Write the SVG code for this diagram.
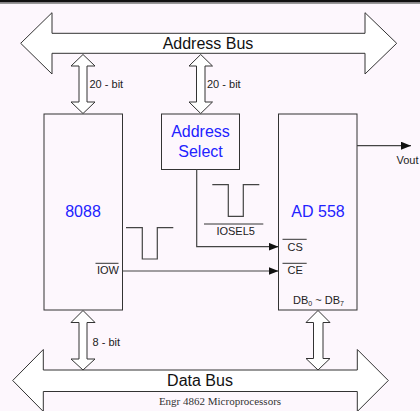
<svg xmlns="http://www.w3.org/2000/svg" width="420" height="411" viewBox="0 0 420 411">
<defs>
<style>
.bus{fill:#fff;stroke:#333;stroke-width:1}
.box{fill:#fdf7fd;stroke:#333;stroke-width:1}
.ln{fill:none;stroke:#444;stroke-width:1.2}
.big{font-family:"Liberation Sans",Arial,sans-serif;font-size:16px;fill:#111}
.blue{font-family:"Liberation Sans",Arial,sans-serif;font-size:16px;fill:#2222ff}
.sm{font-family:"Liberation Sans",Arial,sans-serif;font-size:11px;fill:#222}
.ft{font-family:"Liberation Serif","Times New Roman",serif;font-size:11px;fill:#333}
</style>
<marker id="ah" markerWidth="10" markerHeight="8" refX="10" refY="4" orient="auto" markerUnits="userSpaceOnUse">
<path d="M0,0 L10,4 L0,8 Z" fill="#111"/>
</marker>
</defs>
<rect x="0" y="0" width="420" height="411" fill="#fdf7fd"/>
<rect x="0" y="0" width="420" height="2.5" fill="#111"/>
<line x1="0" y1="3.5" x2="420" y2="3.5" stroke="#999" stroke-width="1"/>

<g id="address-bus">
<path class="bus" d="M20.7,43.3 L52,12.7 L52,33.3 L365,33.3 L365,12.7 L396.7,43.3 L365,74 L365,53.3 L52,53.3 L52,74 Z"/>
<text class="big" x="208" y="49" text-anchor="middle">Address Bus</text>
</g>

<g id="data-bus">
<path class="bus" d="M12.7,380.5 L43.3,349.5 L43.3,370 L357.3,370 L357.3,349.5 L388.3,380.5 L357.3,411.5 L357.3,391.5 L43.3,391.5 L43.3,411.5 Z"/>
<text class="big" x="200" y="386" text-anchor="middle">Data Bus</text>
<text class="ft" x="220" y="405" text-anchor="middle">Engr 4862 Microprocessors</text>
</g>

<g id="cpu-8088">
<rect class="box" x="44" y="114" width="78.5" height="196"/>
<text class="blue" x="83" y="217" text-anchor="middle">8088</text>
<text class="sm" x="97" y="273.5">IOW</text>
<line x1="95.5" y1="263.3" x2="118.5" y2="263.3" stroke="#333" stroke-width="1"/>
</g>

<g id="address-select">
<rect class="box" x="161.5" y="114" width="78" height="55.5"/>
<text class="blue" x="200.5" y="137" text-anchor="middle">Address</text>
<text class="blue" x="200.5" y="157" text-anchor="middle">Select</text>
</g>

<g id="ad558">
<rect class="box" x="278.5" y="114" width="78.5" height="196"/>
<text class="blue" x="318" y="217" text-anchor="middle">AD 558</text>
<text class="sm" x="287.5" y="251">CS</text>
<line x1="282.5" y1="239.3" x2="306.7" y2="239.3" stroke="#333" stroke-width="1"/>
<text class="sm" x="287.5" y="274">CE</text>
<line x1="282.5" y1="263.3" x2="306.7" y2="263.3" stroke="#333" stroke-width="1"/>
<text class="sm" x="293" y="303.5">DB<tspan font-size="7" dy="2">0</tspan><tspan dy="-2"> ~ DB</tspan><tspan font-size="7" dy="2">7</tspan></text>
</g>

<g id="connectors">
<path class="bus" d="M83,54.5 L95,66 L87,66 L87,102 L95,102 L83,113.5 L71,102 L79,102 L79,66 L71,66 Z"/>
<path class="bus" d="M200.7,54.5 L212.5,66 L205,66 L205,102 L212.5,102 L200.7,113.5 L189,102 L196.5,102 L196.5,66 L189,66 Z"/>
<path class="bus" d="M83,310.5 L95,322.5 L87,322.5 L87,359 L95,359 L83,370 L71,359 L79,359 L79,322.5 L71,322.5 Z"/>
<path class="bus" d="M318,310.5 L330,322.5 L323,322.5 L323,358.5 L330,358.5 L318,370 L306,358.5 L313.5,358.5 L313.5,322.5 L306,322.5 Z"/>
<text class="sm" x="89.5" y="88">20 - bit</text>
<text class="sm" x="207" y="88">20 - bit</text>
<text class="sm" x="92.5" y="345.5">8 - bit</text>
<polyline class="ln" points="196.7,169.5 196.7,246.7 278.5,246.7" marker-end="url(#ah)"/>
<line class="ln" x1="122.5" y1="271" x2="278.5" y2="271" marker-end="url(#ah)"/>
<line class="ln" x1="357" y1="145.7" x2="411" y2="145.7" marker-end="url(#ah)"/>
<text class="sm" x="396.5" y="164">Vout</text>
<polyline class="ln" points="126,227.7 142.3,227.7 142.3,259 157.3,259 157.3,227.7 173.3,227.7"/>
<polyline class="ln" points="212.3,184.7 228.3,184.7 228.3,216.3 243.3,216.3 243.3,184.7 259.3,184.7"/>
<line x1="204" y1="224" x2="263.3" y2="224" stroke="#333" stroke-width="1"/>
<text class="sm" x="235.7" y="234.5" text-anchor="middle">IOSEL5</text>
</g>
</svg>
